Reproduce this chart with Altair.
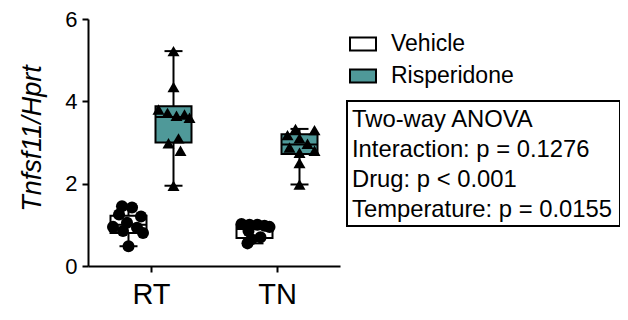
import altair as alt
import pandas as pd

# ---- data ----
temps = ["RT", "TN"]
groups = ["Vehicle", "Risperidone"]
group_colors = ["#ffffff", "#4f9999"]

# individual measurements
veh_rt = [1.45, 1.42, 1.25, 1.20, 1.05, 0.95, 0.93, 0.85, 0.80, 0.48]
veh_rt_jit = [-6.5, 3.5, -9.5, 12.5, -1.5, -15.5, 8.5, -5.5, 14.5, 0]
ris_rt = [5.22, 4.35, 3.80, 3.72, 3.65, 3.68, 3.60, 3.10, 2.98, 2.80, 1.95]
ris_rt_jit = [0, 0, -15, -6, 3, 11, 16, 5, -5, 7, 0]
veh_tn = [1.02, 1.00, 1.00, 0.98, 0.95, 0.85, 0.70, 0.65, 0.55]
veh_tn_jit = [-13, -5, 3, 10, 15, -6, 6, -3, -7]
ris_tn = [3.33, 3.30, 3.18, 3.10, 2.97, 2.88, 2.80, 2.75, 2.50, 1.98]
ris_tn_jit = [-4, 15, -12, 0, 8, -10, 15, 0, 0, 0]

# box statistics (order: Veh RT, Ris RT, Veh TN, Ris TN)
box_temp = ["RT", "RT", "TN", "TN"]
box_group = ["Vehicle", "Risperidone", "Vehicle", "Risperidone"]
box_lo = [0.48, 1.95, 0.55, 1.98]
box_q1 = [0.80, 3.00, 0.68, 2.72]
box_med = [1.00, 3.62, 0.90, 2.95]
box_q3 = [1.22, 3.88, 1.00, 3.20]
box_hi = [1.45, 5.22, 1.02, 3.33]

anova_lines = [
    "Two-way ANOVA",
    "Interaction: p = 0.1276",
    "Drug: p < 0.001",
    "Temperature: p = 0.0155",
]

# ---- geometry helpers ----
W, H = 252, 247
PX = 126.0  # pixels per x unit (domain 0.5..2.5 over W)
GOFF = 22.5 / PX
BHALF = 18.0 / PX
CHALF = 9.0 / PX


def xpos(t, g):
    return temps.index(t) + 1 + (-GOFF if g == "Vehicle" else GOFF)


box_df = pd.DataFrame({
    "temp": box_temp, "group": box_group,
    "lo": box_lo, "q1": box_q1, "med": box_med, "q3": box_q3, "hi": box_hi,
})
box_df["xc"] = [xpos(t, g) for t, g in zip(box_temp, box_group)]
box_df["xl"] = box_df["xc"] - BHALF
box_df["xr"] = box_df["xc"] + BHALF
box_df["cl"] = box_df["xc"] - CHALF
box_df["cr"] = box_df["xc"] + CHALF

rows = []
for t, g, vals, jit in [("RT", "Vehicle", veh_rt, veh_rt_jit),
                        ("RT", "Risperidone", ris_rt, ris_rt_jit),
                        ("TN", "Vehicle", veh_tn, veh_tn_jit),
                        ("TN", "Risperidone", ris_tn, ris_tn_jit)]:
    for v, j in zip(vals, jit):
        rows.append({"temp": t, "group": g, "val": v,
                     "x": xpos(t, g) + j / PX})
pts_df = pd.DataFrame(rows)

FONT = "Liberation Sans"
xs = alt.Scale(domain=[0.5, 2.5], nice=False, zero=False)
ys = alt.Scale(domain=[0, 6], nice=False)
xaxis = alt.Axis(values=[1, 2], labelExpr="datum.value == 1 ? 'RT' : 'TN'",
                 labelFontSize=29, labelPadding=8, grid=False)
yaxis = alt.Axis(values=[0, 2, 4, 6], labelFontSize=22, labelPadding=5,
                 titleFontSize=27, titleFontStyle="italic",
                 titleFontWeight="normal", titlePadding=18, titleY=119,
                 grid=False)
YT = "Tnfsf11/Hprt"


def X(f):
    return alt.X(f, scale=xs, axis=xaxis, title=None)


def Y(f):
    return alt.Y(f, scale=ys, axis=yaxis, title=YT)


base_box = alt.Chart(box_df)

whisk = base_box.mark_rule(color="black", strokeWidth=2).encode(
    x=X("xc:Q"), y=Y("lo:Q"), y2="hi:Q")

box = base_box.mark_rect(stroke="black", strokeWidth=2).encode(
    x=X("xl:Q"), x2="xr:Q", y=Y("q1:Q"), y2="q3:Q",
    fill=alt.Fill("group:N",
                  scale=alt.Scale(domain=groups, range=group_colors),
                  legend=alt.Legend(orient="none", legendX=261, legendY=11,
                                    title=None, symbolType="M-1,-0.5H1V0.5H-1Z",
                                    symbolSize=676, symbolStrokeColor="black",
                                    symbolStrokeWidth=2, symbolOpacity=1,
                                    labelFontSize=23, labelFont=FONT,
                                    labelColor="black", labelOffset=14,
                                    rowPadding=6)))

med = base_box.mark_rule(color="black", strokeWidth=2).encode(
    x=X("xl:Q"), x2="xr:Q", y=Y("med:Q"))

cap_lo = base_box.mark_rule(color="black", strokeWidth=2).encode(
    x=X("cl:Q"), x2="cr:Q", y=Y("lo:Q"))
cap_hi = base_box.mark_rule(color="black", strokeWidth=2).encode(
    x=X("cl:Q"), x2="cr:Q", y=Y("hi:Q"))

pts = alt.Chart(pts_df).mark_point(filled=True, color="black", opacity=1,
                                   size=145).encode(
    x=X("x:Q"), y=Y("val:Q"),
    shape=alt.Shape("group:N",
                    scale=alt.Scale(domain=groups,
                                    range=["circle", "triangle-up"]),
                    legend=None))

ann_df = pd.DataFrame({"k": [0]})
ann_box = alt.Chart(ann_df).mark_rect(fill="white", stroke="black",
                                      strokeWidth=2).encode(
    x=alt.value(259), x2=alt.value(532), y=alt.value(82), y2=alt.value(207))

txt_layers = []
for i, line in enumerate(anova_lines):
    d = pd.DataFrame({"line": [line]})
    txt_layers.append(
        alt.Chart(d).mark_text(align="left", baseline="alphabetic", font=FONT,
                               fontSize=23.8, color="black").encode(
            x=alt.value(264), y=alt.value(108 + 30 * i), text="line:N"))

chart = alt.layer(whisk, box, med, cap_lo, cap_hi, pts, ann_box,
                  *txt_layers).properties(
    width=W, height=H,
    autosize=alt.AutoSizeParams(type="none"),
    padding={"left": 80, "top": 11, "right": 280, "bottom": 46},
).resolve_scale(shape="independent").configure_view(stroke=None).configure_axis(
    domainColor="black", domainWidth=2, tickColor="black", tickWidth=2,
    tickSize=6, labelColor="black", titleColor="black", labelFont=FONT,
    titleFont=FONT,
)

chart.save("out.html", embed_options={"renderer": "svg", "actions": False})
